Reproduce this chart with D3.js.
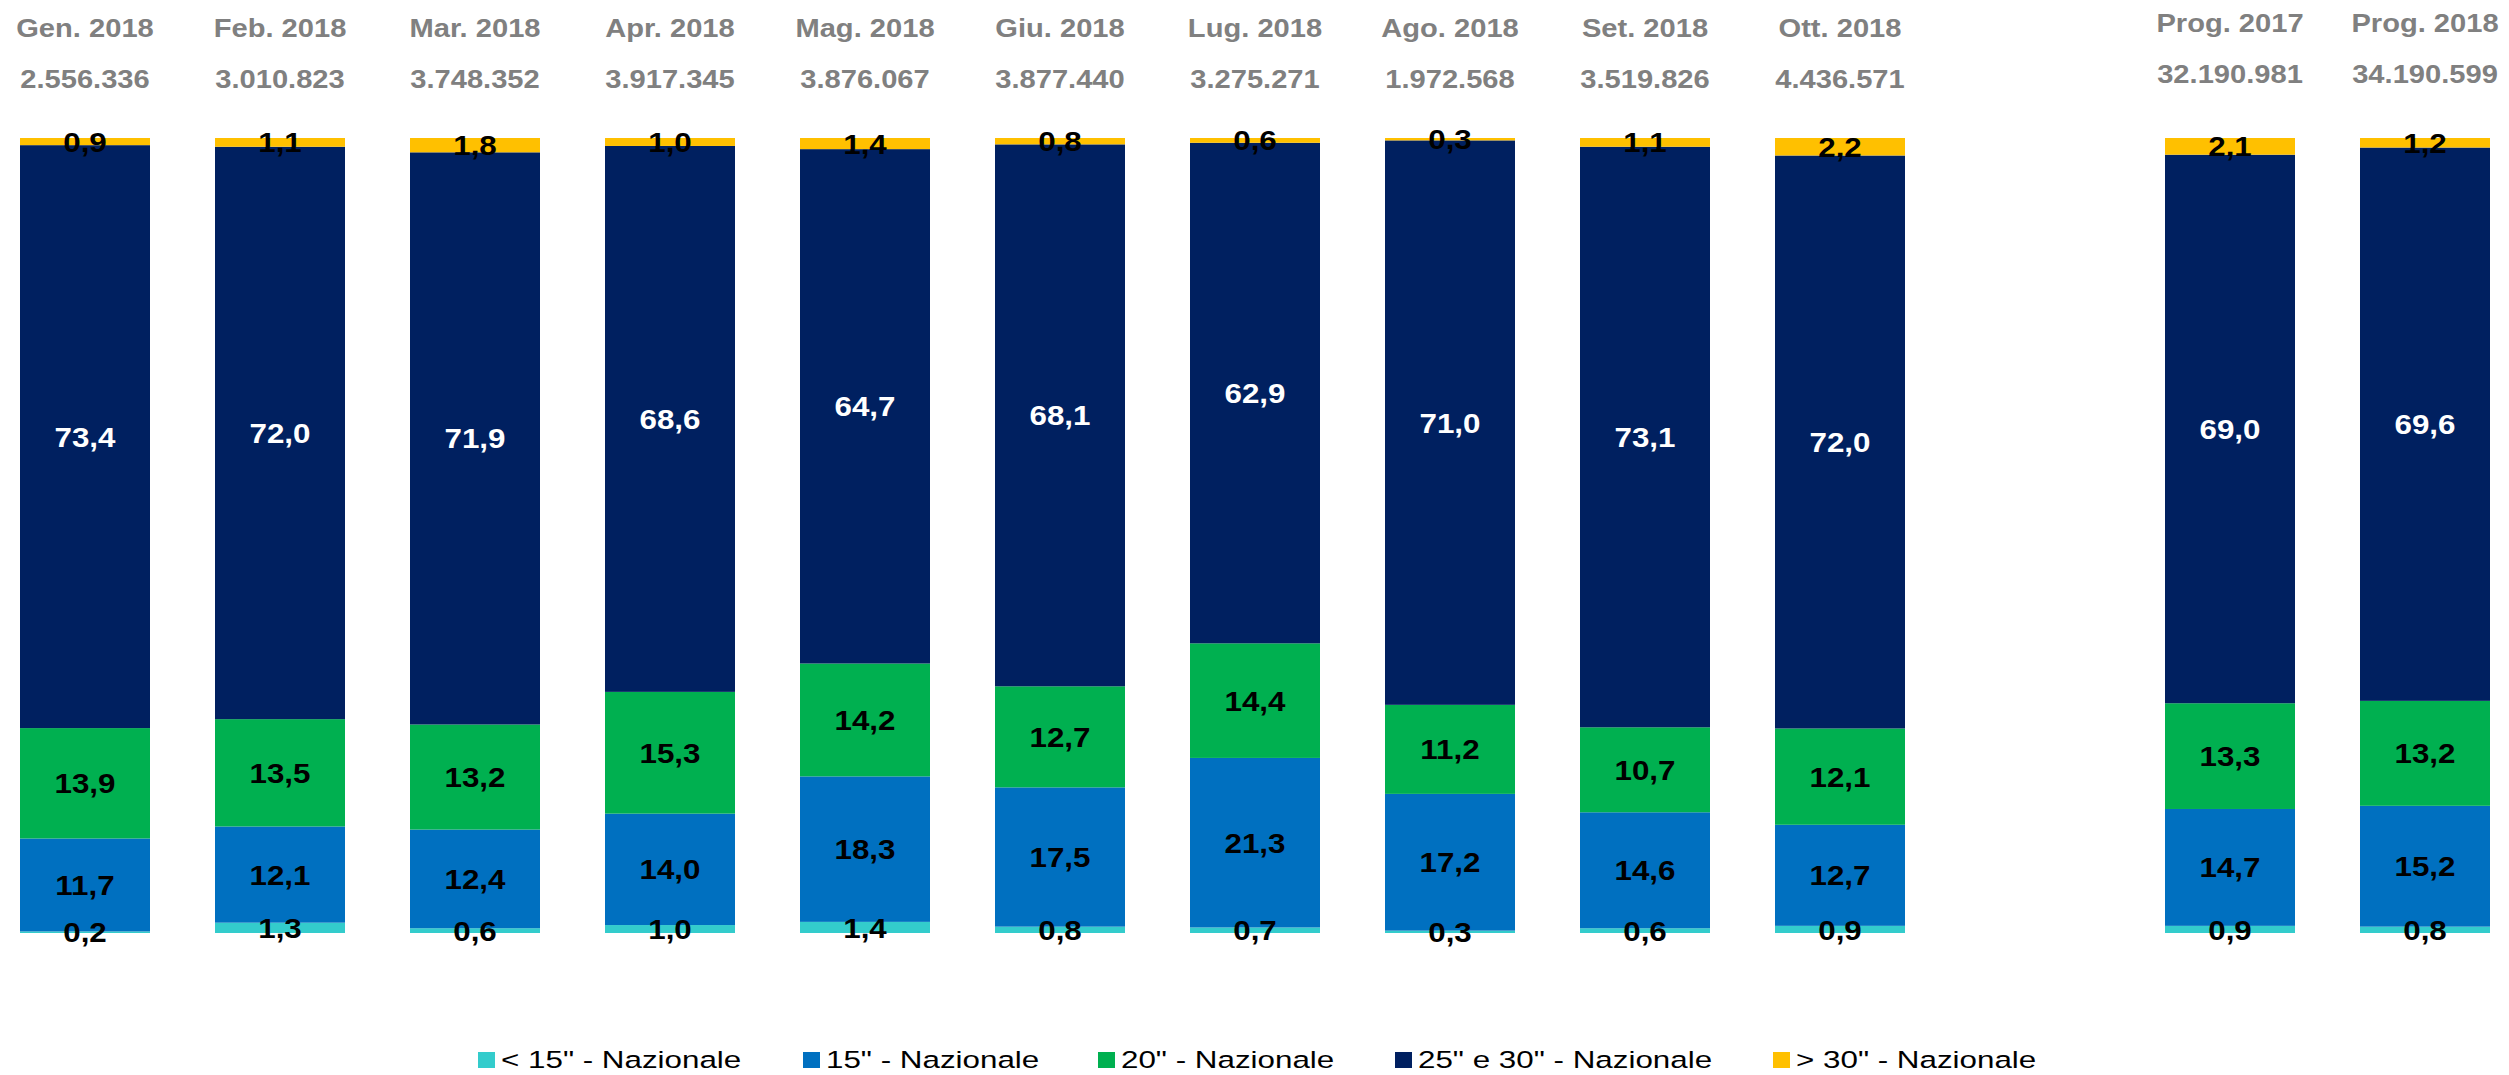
<!DOCTYPE html>
<html>
<head>
<meta charset="utf-8">
<script src="https://cdn.jsdelivr.net/npm/d3@7"></script>
<style>
  body { margin: 0; background: #fff; }
  svg { display: block; }
</style>
</head>
<body>
<div id="chart"></div>
<script>
// categorie (mesi + progressivi)
const categories = ['Gen. 2018', 'Feb. 2018', 'Mar. 2018', 'Apr. 2018', 'Mag. 2018', 'Giu. 2018',
    'Lug. 2018', 'Ago. 2018', 'Set. 2018', 'Ott. 2018', 'Prog. 2017', 'Prog. 2018'];
const totals = ['2.556.336', '3.010.823', '3.748.352', '3.917.345', '3.876.067', '3.877.440',
    '3.275.271', '1.972.568', '3.519.826', '4.436.571', '32.190.981', '34.190.599'];

const seriesNames = ['< 15" - Nazionale', '15" - Nazionale', '20" - Nazionale', '25" e 30" - Nazionale', '> 30" - Nazionale'];
const colors = ['#33CCCC', '#0070C0', '#00B050', '#002060', '#FFC000'];

// quote % per fascia
const under15 = [0.2, 1.3, 0.6, 1.0, 1.4, 0.8, 0.7, 0.3, 0.6, 0.9, 0.9, 0.8];
const sec15   = [11.7, 12.1, 12.4, 14.0, 18.3, 17.5, 21.3, 17.2, 14.6, 12.7, 14.7, 15.2];
const sec20   = [13.9, 13.5, 13.2, 15.3, 14.2, 12.7, 14.4, 11.2, 10.7, 12.1, 13.3, 13.2];
const sec2530 = [73.4, 72.0, 71.9, 68.6, 64.7, 68.1, 62.9, 71.0, 73.1, 72.0, 69.0, 69.6];
const over30  = [0.9, 1.1, 1.8, 1.0, 1.4, 0.8, 0.6, 0.3, 1.1, 2.2, 2.1, 1.2];

const seriesValues = [under15, sec15, sec20, sec2530, over30];

const width = 2509, height = 1075;
const stretch = 1.12; // il grafico originale e' leggermente allargato

const rows = categories.map((c, i) => {
    const r = {cat: c};
    seriesNames.forEach((s, j) => r[s] = seriesValues[j][i]);
    return r;
});

const stack = d3.stack()
    .keys(seriesNames)
    .offset(d3.stackOffsetExpand);
const stacked = stack(rows);

// spazio vuoto tra Ott. e i progressivi
const domain = categories.slice(0, 10).concat(['__gap'], categories.slice(10));

const x = d3.scaleBand()
    .domain(domain)
    .range([-12.5, 2522.5])
    .paddingInner(1 / 3)
    .paddingOuter(1 / 6);

const y = d3.scaleLinear()
    .domain([0, 1])
    .range([933, 138]);

const fmt = v => d3.format('.1f')(v).replace('.', ',');
const mid = c => x(c) + x.bandwidth() / 2;

const svg = d3.select('#chart').append('svg')
    .attr('width', width)
    .attr('height', height)
    .attr('viewBox', [0, 0, width, height]);

const layers = svg.append('g')
    .selectAll('g')
    .data(stacked)
    .join('g')
        .attr('fill', (d, i) => colors[i]);

layers.selectAll('rect')
    .data(d => d)
    .join('rect')
        .attr('x', d => x(d.data.cat))
        .attr('width', x.bandwidth())
        .attr('y', d => y(d[1]))
        .attr('height', d => y(d[0]) - y(d[1]));

// etichette valori
const labels = svg.append('g')
    .attr('font-family', '"Liberation Sans", Arial, sans-serif')
    .attr('font-weight', 'bold')
    .attr('font-size', 28)
    .attr('text-anchor', 'middle');

stacked.forEach((layer, i) => {
    labels.append('g')
        .attr('fill', i === 3 ? '#ffffff' : '#000000')
        .selectAll('text')
        .data(layer)
        .join('text')
            .attr('transform', d => `translate(${mid(d.data.cat)},${(y(d[0]) + y(d[1])) / 2}) scale(${stretch},1)`)
            .attr('dy', '0.36em')
            .text(d => fmt(d.data[layer.key]));
});

// intestazioni
const head = svg.append('g')
    .attr('font-family', '"Liberation Sans", Arial, sans-serif')
    .attr('font-weight', 'bold')
    .attr('font-size', 26)
    .attr('fill', '#808080')
    .attr('text-anchor', 'middle');

const shift = c => c.startsWith('Prog') ? -5 : 0;

head.selectAll('text.cat')
    .data(categories)
    .join('text')
        .attr('class', 'cat')
        .attr('transform', c => `translate(${mid(c)},${37 + shift(c)}) scale(${stretch},1)`)
        .text(c => c);

head.selectAll('text.tot')
    .data(categories)
    .join('text')
        .attr('class', 'tot')
        .attr('transform', c => `translate(${mid(c)},${88 + shift(c)}) scale(${stretch},1)`)
        .text((c, i) => totals[i]);

// legenda
const legendX = [478, 803, 1098, 1395, 1773];
const legend = svg.append('g')
    .attr('font-family', '"Liberation Sans", Arial, sans-serif')
    .attr('font-size', 24.5)
    .selectAll('g')
    .data(seriesNames)
    .join('g')
        .attr('transform', (d, i) => `translate(${legendX[i]},1052)`);

legend.append('rect')
    .attr('width', 17)
    .attr('height', 16)
    .attr('fill', (d, i) => colors[i]);

legend.append('text')
    .attr('transform', 'translate(23,16) scale(1.28,1)')
    .attr('fill', '#000')
    .text(d => d);
</script>
</body>
</html>
